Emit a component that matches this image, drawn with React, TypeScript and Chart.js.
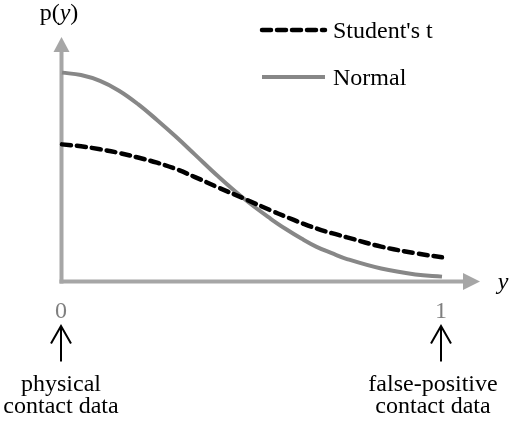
import React, { useEffect, useRef } from "react";
import { Chart, registerables } from "chart.js";

Chart.register(...registerables);

// ---- data ----
const xPositions = [0, 0.05, 0.1, 0.15, 0.2, 0.25, 0.3, 0.35, 0.41, 0.48, 0.55, 0.59, 0.63, 0.67, 0.71, 0.75, 0.84, 0.93, 1.0];
const studentT = [0.562, 0.554, 0.542, 0.527, 0.508, 0.487, 0.461, 0.428, 0.386, 0.339, 0.291, 0.265, 0.24, 0.217, 0.198, 0.181, 0.143, 0.116, 0.099];
const normal = [0.856, 0.846, 0.822, 0.782, 0.727, 0.662, 0.593, 0.52, 0.432, 0.338, 0.256, 0.214, 0.176, 0.142, 0.116, 0.092, 0.053, 0.029, 0.02];
const seriesNames = ["Student's t", "Normal"];
const xTickValues = [0, 1];
const xTickLabels = ["0", "1"];
const endNotes = [
  ["physical", "contact data"],
  ["false-positive", "contact data"],
];
const yTitleParts = ["p(", "y", ")"];
const xTitle = "y";

const FAMILY = "Liberation Serif";
const AXIS_COLOR = "#a6a6a6";
const NORMAL_COLOR = "#878787";
const T_COLOR = "#000000";

const decorPlugin = {
  id: "decor",
  beforeDatasetsDraw(chart: any) {
    const { ctx, scales } = chart;
    const xs = scales.x;
    const ys = scales.y;
    const x0 = xs.getPixelForValue(0) - 0.5;
    const y0 = ys.getPixelForValue(0);
    const yTip = ys.getPixelForValue(1) - 0.5;
    const xTip = xs.getPixelForValue(1) + 38;
    ctx.save();
    ctx.strokeStyle = AXIS_COLOR;
    ctx.fillStyle = AXIS_COLOR;
    ctx.lineWidth = 4;
    ctx.lineCap = "butt";
    ctx.beginPath();
    ctx.moveTo(x0, y0 + 2);
    ctx.lineTo(x0, yTip + 14);
    ctx.stroke();
    ctx.beginPath();
    ctx.moveTo(x0, yTip);
    ctx.lineTo(x0 - 8, yTip + 15);
    ctx.lineTo(x0 + 8, yTip + 15);
    ctx.closePath();
    ctx.fill();
    ctx.beginPath();
    ctx.moveTo(x0 - 2, y0);
    ctx.lineTo(xTip - 16, y0);
    ctx.stroke();
    ctx.beginPath();
    ctx.moveTo(xTip, y0);
    ctx.lineTo(xTip - 17, y0 - 8.5);
    ctx.lineTo(xTip - 17, y0 + 8.5);
    ctx.closePath();
    ctx.fill();
    ctx.restore();
  },
  afterDraw(chart: any) {
    const { ctx, scales } = chart;
    const xs = scales.x;
    const ys = scales.y;
    const y0 = ys.getPixelForValue(0);
    ctx.save();
    ctx.textBaseline = "alphabetic";
    const normalFont = `24px "${FAMILY}"`;
    const italicFont = `italic 24px "${FAMILY}"`;
    ctx.fillStyle = "#000";
    const fonts = [normalFont, italicFont, normalFont];
    let total = 0;
    const widths = yTitleParts.map((t, i) => {
      ctx.font = fonts[i];
      const w = ctx.measureText(t).width;
      total += w;
      return w;
    });
    let cx = xs.getPixelForValue(0) - 3 - total / 2;
    ctx.textAlign = "left";
    yTitleParts.forEach((t, i) => {
      ctx.font = fonts[i];
      ctx.fillText(t, cx, 20);
      cx += widths[i];
    });
    ctx.font = italicFont;
    ctx.textAlign = "center";
    ctx.fillText(xTitle, xs.getPixelForValue(1) + 61, y0 + 7);

    xTickValues.forEach((v, i) => {
      const px = xs.getPixelForValue(v) - 1;
      ctx.font = normalFont;
      ctx.fillStyle = "#7f7f7f";
      ctx.textAlign = "center";
      ctx.fillText(xTickLabels[i], px, y0 + 36);
      ctx.strokeStyle = "#000";
      ctx.lineWidth = 2;
      ctx.beginPath();
      ctx.moveTo(px, y0 + 80);
      ctx.lineTo(px, y0 + 45);
      ctx.stroke();
      ctx.beginPath();
      ctx.moveTo(px - 10, y0 + 62);
      ctx.lineTo(px, y0 + 44.5);
      ctx.lineTo(px + 10, y0 + 62);
      ctx.stroke();
      ctx.fillStyle = "#000";
      const lines = endNotes[i];
      const nx = i === 0 ? px : px - 8;
      lines.forEach((ln, j) => {
        ctx.fillText(ln, nx, y0 + 109.5 + j * 21.5);
      });
    });

    const ds = chart.data.datasets;
    const legendY = [30, 77];
    ds.forEach((d: any, i: number) => {
      ctx.save();
      ctx.strokeStyle = d.borderColor;
      ctx.lineWidth = d.borderWidth;
      ctx.lineCap = d.borderCapStyle || "butt";
      ctx.setLineDash(d.borderDash || []);
      ctx.beginPath();
      ctx.moveTo(262, legendY[i]);
      ctx.lineTo(325, legendY[i]);
      ctx.stroke();
      ctx.restore();
      ctx.font = normalFont;
      ctx.fillStyle = "#000";
      ctx.textAlign = "left";
      ctx.fillText(d.label, 333, legendY[i] + 8);
    });
    ctx.restore();
  },
};

export default function App() {
  const ref = useRef<HTMLCanvasElement | null>(null);
  useEffect(() => {
    if (!ref.current) return;
    const chart = new Chart(ref.current, {
      type: "line",
      data: {
        datasets: [
          {
            label: seriesNames[0],
            data: xPositions.map((x, i) => ({ x, y: studentT[i] })),
            borderColor: T_COLOR,
            borderWidth: 4.5,
            borderDash: [9, 6],
            borderCapStyle: "round",
            pointRadius: 0,
            tension: 0.4,
            fill: false,
            clip: false,
          },
          {
            label: seriesNames[1],
            data: xPositions.map((x, i) => ({ x, y: normal[i] })),
            borderColor: NORMAL_COLOR,
            borderWidth: 4,
            borderCapStyle: "butt",
            pointRadius: 0,
            tension: 0.4,
            fill: false,
            clip: false,
          },
        ],
      },
      options: {
        responsive: false,
        animation: false,
        layout: { padding: { left: 62, right: 68, top: 37.5, bottom: 140.5 } },
        plugins: { legend: { display: false }, tooltip: { enabled: false } },
        scales: {
          x: { type: "linear", min: 0, max: 1, display: false },
          y: { type: "linear", min: 0, max: 1, display: false },
        },
      },
      plugins: [decorPlugin],
    } as any);
    return () => chart.destroy();
  }, []);
  return (
    <div style={{ position: "absolute", left: 0, top: 0, width: 510, height: 422, background: "#fff" }}>
      <canvas ref={ref} width={510} height={422} />
    </div>
  );
}
